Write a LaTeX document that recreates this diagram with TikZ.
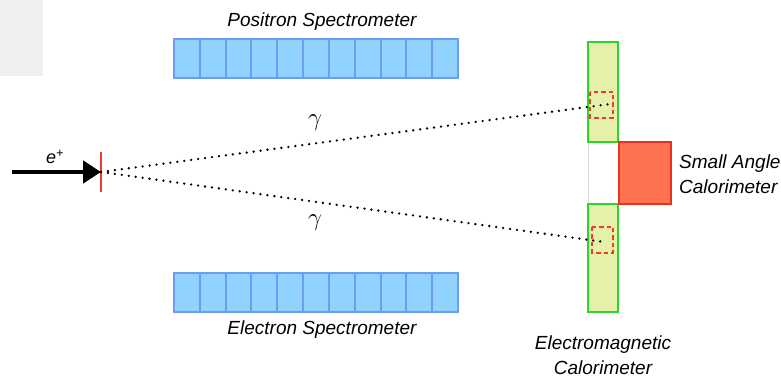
\documentclass[tikz,border=0pt]{standalone}
\usepackage{fontspec}
\setmainfont{Liberation Sans}
\usetikzlibrary{arrows.meta}
\definecolor{panelgray}{HTML}{EFEFEF}
\definecolor{cellfill}{HTML}{90D3FF}
\definecolor{cellline}{HTML}{6E9CF5}
\definecolor{calofill}{HTML}{E5F0A8}
\definecolor{caloline}{HTML}{2BD62B}
\definecolor{safill}{HTML}{FF7250}
\definecolor{saline}{HTML}{E8301E}
\definecolor{tgtred}{HTML}{F03A2A}
\tikzset{
  lbl/.style={font=\itshape\fontsize{19}{25}\selectfont, inner sep=0pt},
  cell/.style={draw=cellline, fill=cellfill, line width=2pt},
  calo/.style={draw=caloline, fill=calofill, line width=2.6pt},
  hitbox/.style={draw=tgtred, dashed, dash pattern=on 4.5pt off 3pt, line width=2.2pt},
  photon/.style={line width=2.6pt, line cap=round, dash pattern=on 0pt off 7pt},
}
\begin{document}
\begin{tikzpicture}[x=1pt,y=-1pt]
\useasboundingbox (0,0) rectangle (781,379);
\fill[panelgray] (0,0) rectangle (43,76);

% spectrometers: 11 cells each
\foreach \i in {0,...,10} {
  \draw[cell] ({174+\i*284/11},39) rectangle ({174+(\i+1)*284/11},78);
  \draw[cell] ({174+\i*284/11},273) rectangle ({174+(\i+1)*284/11},312);
}
\node[lbl] (pslbl) at (322,22) {Positron Spectrometer};
\node[lbl] (eslbl) at (322,330) {Electron Spectrometer};

% beam and target
\coordinate (beamstart) at (12,172);
\coordinate (tgt) at (101,172);
\draw[line width=4.5pt, -{Triangle[length=18pt,width=22pt]}] (beamstart) -- (tgt);
\node[font=\itshape\fontsize{18}{22}\selectfont, inner sep=0pt] (elbl) at (55,157) {e\textsuperscript{+}};
\draw[tgtred, line width=2.6pt] (101,152) -- (101,192);

% electromagnetic calorimeter
\draw[calo] (588,42) rectangle (618,142);
\draw[calo] (588,204) rectangle (618,312);
\fill[white] (588,143.4) rectangle (618,202.6);
\draw[black!15, line width=0.6pt] (588,143.4) -- (588,202.6);
% small angle calorimeter
\draw[draw=saline, fill=safill, line width=2.6pt] (619,142) rectangle (671,204);

% hit regions
\draw[hitbox] (590,92) rectangle (613,118);
\draw[hitbox] (592,227) rectangle (613,253);

% photons
\coordinate (hitup) at (610,104);
\coordinate (hitdn) at (604,242);
\draw[photon] (tgt) -- (hitup);
\draw[photon] (tgt) -- (hitdn);
\node[font=\fontsize{24}{28}\selectfont, inner sep=0pt] (g1) at (315,123) {$\gamma$};
\node[font=\fontsize{24}{28}\selectfont, inner sep=0pt] (g2) at (315,223) {$\gamma$};

% labels
\node[lbl, anchor=west, align=left] (salbl) at (679,174) {Small Angle\\Calorimeter};
\node[lbl, align=center] (emlbl) at (603,355) {Electromagnetic\\Calorimeter};
\end{tikzpicture}
\end{document}
